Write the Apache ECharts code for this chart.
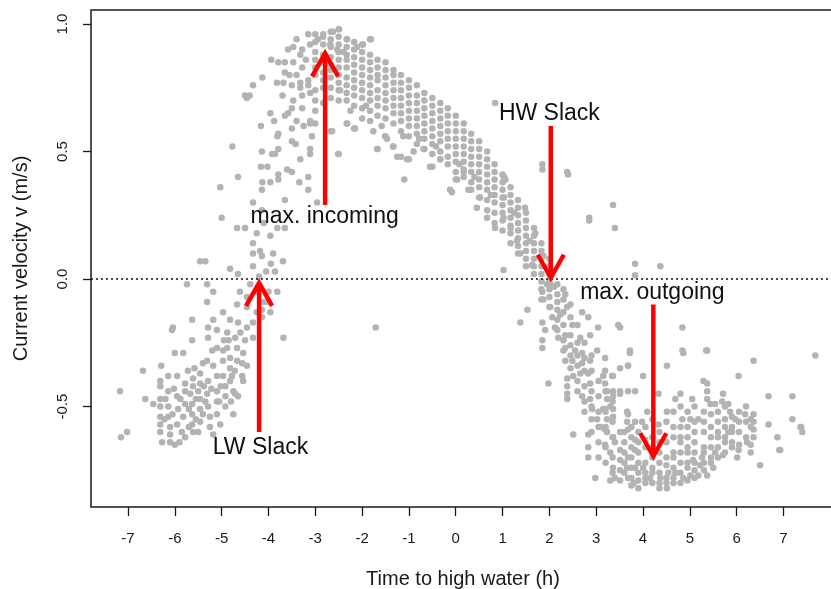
<!DOCTYPE html>
<html>
<head>
<meta charset="utf-8">
<script src="https://cdn.jsdelivr.net/npm/echarts@6/dist/echarts.min.js"></script>
<style>
  html, body { margin: 0; padding: 0; background: #fff; }
  #chart { width: 831px; height: 589px; }
</style>
</head>
<body>
<div id="chart"></div>
<script>
// tick labels
const hourTicks = [-7, -6, -5, -4, -3, -2, -1, 0, 1, 2, 3, 4, 5, 6, 7];
const velocityTicks = [-0.5, 0.0, 0.5, 1.0];

// low water / early flood, read point by point  [hours, m/s]
const lowWaterPts = [
  [-7.17,-0.44],[-7.15,-0.62],[-7.02,-0.60],[-6.68,-0.36],[-6.63,-0.47],[-6.46,-0.49],[-6.29,-0.34],[-6.06,-0.20],
  [-6.31,-0.40],[-6.31,-0.42],[-6.31,-0.47],[-6.31,-0.50],[-6.31,-0.54],[-6.31,-0.57],[-6.31,-0.60],[-6.27,-0.64],
  [-6.14,-0.38],[-6.14,-0.44],[-6.14,-0.50],[-6.14,-0.54],[-6.10,-0.58],[-6.10,-0.61],[-6.10,-0.64],[-6.00,-0.65],
  [-6.04,-0.19],[-5.95,-0.38],[-5.95,-0.46],[-5.93,-0.51],[-5.95,-0.57],[-5.85,-0.60],[-5.82,-0.54],[-5.78,-0.49],
  [-5.78,-0.44],[-5.78,-0.41],[-5.78,-0.62],[-5.82,-0.29],[-6.00,-0.29],[-6.20,-0.47],[-6.05,-0.53],[-5.90,-0.64],
  [-5.67,-0.45],[-5.63,-0.49],[-5.63,-0.53],[-5.63,-0.57],[-5.61,-0.60],[-5.61,-0.42],[-5.61,-0.39],[-5.63,-0.24],
  [-5.63,-0.16],[-5.70,-0.51],[-5.72,-0.36],[-5.55,-0.47],[-5.55,-0.55],[-5.40,-0.53],[-5.38,-0.42],
  [-5.50,-0.44],[-5.46,-0.47],[-5.46,-0.51],[-5.46,-0.56],[-5.50,-0.60],[-5.46,-0.41],[-5.46,-0.37],[-5.46,0.07],
  [-5.31,-0.45],[-5.29,-0.50],[-5.25,-0.54],[-5.25,-0.58],[-5.29,-0.40],[-5.31,-0.32],[-5.29,-0.23],[-5.29,-0.19],
  [-5.31,-0.09],[-5.31,-0.02],[-5.18,-0.34],[-5.18,-0.16],[-5.18,-0.05],[-5.18,-0.61],[-5.10,-0.38],[-5.10,-0.44],
  [-5.10,-0.48],[-5.10,-0.53],[-5.03,-0.57],[-5.10,-0.20],[-5.10,-0.27],[-5.20,-0.28],[-5.02,-0.42],
  [-4.97,-0.13],[-4.97,-0.28],[-4.97,-0.32],[-4.97,-0.38],[-4.92,-0.42],[-4.92,-0.46],[-4.92,-0.50],[-4.88,-0.21],
  [-4.88,-0.27],[-4.82,-0.16],[-4.82,-0.31],[-4.82,-0.35],[-4.82,-0.40],[-4.78,-0.38],[-4.75,-0.44],[-4.75,-0.53],
  [-4.71,-0.23],[-4.71,-0.45],[-4.67,-0.10],[-4.67,-0.27],[-4.67,-0.32],[-4.65,-0.17],[-4.65,-0.46],[-4.61,-0.05],
  [-4.56,-0.33],[-4.56,-0.38],[-4.54,-0.29],[-4.54,-0.40],[-4.50,-0.24],[-5.74,-0.02],[-5.35,0.07],[-5.03,0.36],
  [-5.00,0.24],[-4.80,-0.48],[-4.85,-0.24],[-4.60,-0.21],[-6.22,-0.55],[-6.02,-0.43],[-5.88,-0.47],[-5.70,-0.58],
  [-5.58,-0.35],[-5.40,-0.33],[-5.35,-0.48],[-5.22,-0.43],[-5.05,-0.48],[-4.95,-0.24],[-4.72,-0.36]
];

// flood rising to max. incoming
const floodPts = [
  [-4.46,-0.07],[-4.46,-0.11],[-4.46,-0.19],[-4.46,-0.34],[-4.39,-0.02],[-4.33,-0.17],[-4.33,-0.23],[-4.33,0.05],
  [-4.33,0.10],[-4.33,0.14],[-4.33,0.30],[-4.25,-0.05],[-4.25,-0.13],[-4.14,-0.12],[-4.14,-0.15],[-4.14,0.09],
  [-4.14,0.27],[-4.18,0.11],[-4.10,-0.09],[-4.00,-0.05],[-4.00,-0.09],[-3.96,-0.13],[-3.96,0.17],[-3.90,0.10],
  [-3.86,0.03],[-3.81,-0.05],[-3.81,0.20],[-3.69,0.07],[-3.68,-0.23],[-3.65,0.20],[-3.65,0.31],[-4.82,0.04],
  [-4.65,0.02],[-4.67,0.20],[-4.50,0.20],[-4.20,0.01],[-4.05,0.03],[-4.25,0.18],[-4.10,0.22],[-3.95,0.06],
  [-4.77,0.52],[-4.65,0.40],[-4.46,0.71],[-4.50,0.72],[-4.40,0.72],[-4.33,0.76],[-4.13,0.79],[-4.16,0.60],
  [-4.14,0.50],[-4.16,0.44],[-4.13,0.38],[-4.14,0.35],[-3.96,0.38],[-3.92,0.49],[-3.81,0.56],[-3.79,0.51],
  [-3.96,0.65],[-3.79,0.41],[-3.79,0.39],[-3.60,0.43],[-3.50,0.42],[-3.32,0.47],[-3.15,0.40],[-3.50,0.54],
  [-3.34,0.38],[-3.58,0.65],[-3.47,0.70],[-3.32,0.75],[-3.15,0.76],[-3.28,0.67],[-3.11,0.61],[-3.11,0.51],
  [-3.94,0.86],[-3.79,0.85],[-3.65,0.85],[-3.47,0.85],[-3.28,0.83],[-3.65,0.81],[-3.82,0.77],[-3.68,0.77],
  [-3.50,0.76],[-3.32,0.77],[-3.15,0.78],[-3.11,0.73],[-3.28,0.72],[-3.65,0.64],[-3.79,0.57],[-3.50,0.59],
  [-3.11,0.62],[-3.07,0.56],[-3.11,0.49],[-3.86,0.49],[-2.96,0.30],[-3.15,0.35],[-3.50,0.67],[-3.40,0.62],
  [-3.15,0.96],[-2.94,0.94],[-3.47,0.91],[-3.28,0.90],[-3.32,0.88],[-3.11,0.92],[-3.20,0.86],[-3.40,0.80],
  [-3.58,0.90],[-3.40,0.94],[-3.55,0.80],[-3.25,0.60],[-3.42,0.53],[-3.70,0.72],[-3.88,0.62],[-4.02,0.44]
];

// dense ebb band: one column of values per time step
const ebbTimes = [-3.0,-2.83,-2.67,-2.5,-2.33,-2.17,-2.0,-1.83,-1.67,-1.5,-1.33,-1.17,-1.0,-0.83,-0.67,-0.5,
  -0.33,-0.17,0.0,0.17,0.33,0.5,0.67,0.83,1.0,1.17,1.33,1.5,1.67,1.83,2.0];
const ebbValues = [
  [0.96,0.93,0.89,0.86,0.83,0.80,0.74,0.70,0.66,0.61],
  [0.95,0.92,0.88,0.85,0.81,0.78,0.75,0.69],
  [0.97,0.94,0.91,0.87,0.84,0.82,0.79,0.75,0.71,0.58],
  [0.98,0.95,0.92,0.89,0.86,0.83,0.80,0.77,0.74,0.70,0.49],
  [0.94,0.91,0.88,0.86,0.83,0.79,0.76,0.73,0.70,0.61],
  [0.93,0.90,0.87,0.84,0.81,0.78,0.75,0.72,0.68,0.59],
  [0.92,0.89,0.86,0.83,0.80,0.77,0.74,0.71,0.67,0.63],
  [0.94,0.88,0.85,0.82,0.79,0.76,0.73,0.70,0.66,0.62],
  [0.86,0.83,0.80,0.78,0.74,0.71,0.68,0.64,0.51],
  [0.85,0.82,0.79,0.76,0.73,0.70,0.67,0.63,0.56],
  [0.82,0.80,0.77,0.74,0.71,0.68,0.65,0.61,0.52],
  [0.80,0.77,0.74,0.71,0.68,0.65,0.62,0.58,0.48],
  [0.78,0.75,0.72,0.69,0.66,0.63,0.60,0.56,0.47],
  [0.76,0.72,0.69,0.66,0.63,0.60,0.57,0.53],
  [0.73,0.70,0.67,0.64,0.61,0.58,0.55,0.51],
  [0.71,0.68,0.65,0.62,0.59,0.56,0.53,0.49,0.44],
  [0.69,0.66,0.63,0.60,0.57,0.54,0.50,0.47],
  [0.67,0.64,0.61,0.58,0.55,0.52,0.48,0.45],
  [0.64,0.61,0.58,0.55,0.52,0.49,0.46,0.42,0.39],
  [0.61,0.58,0.55,0.52,0.49,0.46,0.43,0.40],
  [0.57,0.54,0.51,0.48,0.45,0.42,0.38,0.35],
  [0.54,0.51,0.48,0.45,0.42,0.39,0.36,0.32],
  [0.50,0.47,0.44,0.41,0.38,0.35,0.31,0.27],
  [0.45,0.42,0.39,0.36,0.33,0.30,0.26,0.22],
  [0.41,0.38,0.35,0.32,0.29,0.26,0.23,0.19],
  [0.36,0.33,0.30,0.27,0.24,0.21,0.18,0.14],
  [0.31,0.28,0.25,0.22,0.19,0.16,0.13,0.10],
  [0.26,0.23,0.20,0.17,0.14,0.11,0.08,0.05],
  [0.20,0.17,0.14,0.11,0.08,0.05,0.02],
  [0.14,0.11,0.08,0.05,0.02,-0.01,-0.04,-0.08],
  [0.08,0.05,0.02,-0.01,-0.04,-0.07,-0.11]
];

// scattered points around the ebb band
const ebbStrayPts = [
  [-2.32,0.61],[-2.15,0.59],[-2.47,0.74],[-2.51,0.49],[-2.64,0.58],[-1.76,0.58],[-1.68,0.51],[-1.34,0.52],
  [-1.47,0.55],[-1.12,0.56],[-1.25,0.48],[-1.04,0.47],[-1.10,0.39],[-1.71,-0.19],[-1.51,0.56],[-0.90,0.50],
  [-0.55,0.44],[-0.69,0.51],[-0.33,0.47],[-0.12,0.35],[0.03,0.39],[0.17,0.42],[0.27,0.35],[0.52,0.32],
  [0.67,0.24],[0.45,0.28],[-0.08,0.34],[0.84,0.69],[1.85,0.45],[1.85,0.43],[2.38,0.42],[2.40,0.41],
  [1.03,0.40],[1.03,0.32],[1.48,0.28],[2.85,0.24],[2.85,0.23],[3.36,0.29],[3.40,0.20],[3.83,0.06],
  [4.37,0.05],[3.83,0.015],[1.06,0.39],[-2.83,0.96],[-2.62,0.97],[-2.49,0.98],[-2.32,0.94],[-2.11,0.91],
  [-1.81,0.94],[-1.98,0.92],[-2.68,0.92],[-2.53,0.90],[-2.40,0.89],[1.02,0.24],[0.84,0.20],[1.17,0.20],
  [1.31,0.15],[1.38,0.10],[1.02,0.035],[1.63,0.055],[1.70,0.18],[1.87,0.09],[-2.25,0.66],[-1.92,0.68],
  [-1.58,0.60],[-0.78,0.55],[-0.42,0.52],[0.08,0.45],[0.40,0.40],[0.75,0.33],[1.25,0.26],[1.58,0.15]
];

// after HW slack, falling towards max. outgoing
const slackTimes = [2.17, 2.3, 2.45, 2.6, 2.75, 2.9, 3.05, 3.2, 3.35];
const slackValues = [
  [-0.02,-0.06,-0.12,-0.16,-0.20],
  [-0.04,-0.08,-0.13,-0.18,-0.24,-0.28],
  [-0.10,-0.15,-0.22,-0.26,-0.30,-0.35],
  [-0.18,-0.25,-0.30,-0.34,-0.40,-0.44],
  [-0.25,-0.31,-0.36,-0.42,-0.48,-0.52],
  [-0.30,-0.36,-0.44,-0.50,-0.55,-0.60],
  [-0.40,-0.46,-0.52,-0.58,-0.64,-0.70],
  [-0.44,-0.52,-0.58,-0.66,-0.72],
  [-0.48,-0.56,-0.62,-0.70,-0.76]
];
const slackPts = [
  [2.02,-0.02],[1.85,-0.05],[1.87,-0.08],[2.02,-0.11],[2.17,-0.09],[2.23,-0.14],[2.34,-0.06],[2.38,-0.11],
  [2.06,-0.15],[1.85,-0.17],[1.91,-0.20],[1.85,-0.24],[1.85,-0.27],[2.12,-0.19],[2.19,-0.23],[2.34,-0.22],
  [2.49,-0.18],[2.70,-0.13],[2.66,-0.23],[2.83,-0.15],[2.87,-0.22],[3.04,-0.19],[2.55,-0.28],[2.34,-0.27],
  [2.70,-0.29],[3.02,-0.28],[2.34,-0.32],[2.49,-0.32],[2.70,-0.33],[2.87,-0.32],[3.19,-0.31],[2.38,-0.39],
  [2.51,-0.38],[2.66,-0.37],[2.83,-0.37],[2.87,-0.41],[2.70,-0.46],[2.38,-0.42],[2.38,-0.45],[2.38,-0.47],
  [1.98,-0.41],[3.15,-0.38],[3.23,-0.44],[3.36,-0.38],[3.51,-0.44],[3.36,-0.46],[2.87,-0.47],[2.91,-0.51],
  [3.02,-0.55],[3.09,-0.58],[3.15,-0.51],[3.30,-0.50],[3.36,-0.54],[3.23,-0.60],[3.40,-0.64],[3.30,-0.68],
  [3.51,-0.60],[3.66,-0.56],[3.68,-0.53],[2.51,-0.61],[2.83,-0.61],[2.83,-0.66],[2.83,-0.70],[2.98,-0.78],
  [1.38,-0.17],[1.53,-0.12],[3.51,-0.19],[3.72,-0.28],[3.68,-0.34],[3.47,-0.18],[2.10,-0.03],[1.95,-0.02]
];

// trough around max. outgoing
const troughTimes = [3.6, 3.75, 3.9, 4.05, 4.2, 4.35, 4.5, 4.65, 4.8, 4.95, 5.1, 5.3, 5.45, 5.6, 5.75, 5.9, 6.05, 6.2, 6.3];
const troughValues = [
  [-0.60,-0.64,-0.68,-0.72,-0.76],
  [-0.58,-0.62,-0.66,-0.70,-0.74,-0.78,-0.81],
  [-0.60,-0.64,-0.68,-0.72,-0.76,-0.79],
  [-0.58,-0.66,-0.72,-0.76,-0.78],
  [-0.55,-0.62,-0.66,-0.70,-0.76,-0.80],
  [-0.60,-0.64,-0.68,-0.72,-0.76,-0.80,-0.82],
  [-0.56,-0.64,-0.70,-0.73,-0.78,-0.80],
  [-0.52,-0.58,-0.62,-0.68,-0.70,-0.74,-0.78,-0.80],
  [-0.50,-0.58,-0.62,-0.64,-0.68,-0.72,-0.76,-0.80],
  [-0.52,-0.58,-0.62,-0.66,-0.68,-0.72,-0.74,-0.79],
  [-0.50,-0.56,-0.60,-0.64,-0.68,-0.72,-0.75,-0.78],
  [-0.52,-0.56,-0.60,-0.66,-0.68,-0.72,-0.75],
  [-0.53,-0.58,-0.62,-0.66,-0.70,-0.72],
  [-0.52,-0.56,-0.60,-0.62,-0.66,-0.70],
  [-0.50,-0.55,-0.58,-0.62,-0.64,-0.68],
  [-0.54,-0.58,-0.60,-0.64,-0.66],
  [-0.52,-0.56,-0.60,-0.65],
  [-0.50,-0.56,-0.62],
  [-0.55,-0.58,-0.65,-0.68]
];
const troughPts = [
  [3.19,-0.36],[3.34,-0.38],[3.51,-0.35],[3.68,-0.34],[3.72,-0.29],[4.00,-0.38],[4.51,-0.34],[4.86,-0.29],
  [5.37,-0.28],[6.36,-0.32],[7.68,-0.30],[6.04,-0.38],[5.29,-0.40],[5.37,-0.41],[5.37,-0.44],[5.71,-0.45],
  [6.68,-0.46],[7.19,-0.46],[7.19,-0.55],[7.36,-0.58],[7.40,-0.60],[6.68,-0.57],[6.87,-0.62],[6.93,-0.67],
  [6.50,-0.73],[3.19,-0.41],[3.36,-0.44],[3.23,-0.47],[3.51,-0.45],[3.68,-0.44],[3.83,-0.44],[3.19,-0.51],
  [3.36,-0.51],[3.66,-0.52],[4.09,-0.52],[4.33,-0.45],[4.51,-0.52],[4.69,-0.47],[4.80,-0.45],[5.05,-0.47],
  [4.84,-0.55],[5.01,-0.55],[5.18,-0.55],[5.37,-0.47],[5.44,-0.49],[5.54,-0.49],[5.69,-0.48],[5.82,-0.49],
  [5.86,-0.52],[5.97,-0.55],[6.18,-0.53],[6.36,-0.53],[6.36,-0.56],[6.36,-0.59],[6.36,-0.62],[6.22,-0.64],
  [6.04,-0.67],[6.01,-0.70],[5.82,-0.60],[5.71,-0.69],[5.54,-0.68],[5.26,-0.70],[5.07,-0.71],[5.22,-0.73],
  [5.50,-0.74],[5.37,-0.77],[5.18,-0.77],[5.01,-0.77],[4.86,-0.78],[4.69,-0.76],[4.54,-0.76],[4.51,-0.82],
  [4.37,-0.78],[4.15,-0.78],[4.05,-0.80],[3.90,-0.82],[3.80,-0.80],[3.68,-0.78],[3.51,-0.79],[3.40,-0.78],
  [3.30,-0.79],[3.36,-0.74],[3.51,-0.75],[3.66,-0.74],[3.83,-0.74],[4.00,-0.74],[4.20,-0.74],[3.51,-0.71],
  [3.51,-0.67],[3.68,-0.70],[3.83,-0.67],[4.05,-0.63],[3.83,-0.63],[3.68,-0.59],[3.83,-0.56],[3.98,-0.56],
  [4.33,-0.57],[3.23,-0.55],[3.19,-0.59],[3.19,-0.65],[3.36,-0.62],[4.84,-0.19],[4.84,-0.28],[5.35,-0.28],
  [6.91,-0.67],[7.38,-0.58]
];

// annotation arrows and their labels (hours, m/s)
const arrowTimes = [-4.2, -2.79, 2.03, 4.22];
const arrowStart = [-0.60, 0.29, 0.60, -0.10];
const arrowTip = [-0.015, 0.885, 0.005, -0.695];
const noteNames = ['LW Slack', 'max. incoming', 'HW Slack', 'max. outgoing'];
const noteTimes = [-4.17, -2.8, 2.0, 4.2];
const noteValues = [-0.66, 0.243, 0.65, -0.055];

function fromColumns(times, values) {
  const out = [];
  times.forEach((t, i) => values[i].forEach(v => out.push([t, v])));
  return out;
}

const points = [].concat(
  lowWaterPts, floodPts, fromColumns(ebbTimes, ebbValues), ebbStrayPts,
  fromColumns(slackTimes, slackValues), slackPts, fromColumns(troughTimes, troughValues), troughPts
);

const font = '"Liberation Sans", Arial, sans-serif';
const chart = echarts.init(document.getElementById('chart'));
chart.setOption({
  animation: false,
  backgroundColor: '#fff',
  grid: {
    left: 91, right: -4, top: 10, bottom: 82,
    outerBoundsMode: 'none',
    show: true, borderColor: '#1a1a1a', borderWidth: 1.5, backgroundColor: 'transparent'
  },
  xAxis: {
    type: 'value', min: -7.79, max: 8.1,
    name: 'Time to high water (h)', nameLocation: 'middle', nameGap: 62,
    nameTextStyle: { fontFamily: font, fontSize: 20, color: '#1a1a1a' },
    axisLine: { show: false, onZero: false },
    axisTick: { show: true, length: 9, customValues: hourTicks, lineStyle: { color: '#1a1a1a', width: 1.3 } },
    axisLabel: { customValues: hourTicks, margin: 24, fontFamily: font, fontSize: 15, color: '#1a1a1a' },
    splitLine: { show: false }
  },
  yAxis: {
    type: 'value', min: -0.894, max: 1.055,
    name: 'Current velocity v (m/s)', nameLocation: 'middle', nameGap: 60,
    nameTextStyle: { fontFamily: font, fontSize: 20, color: '#1a1a1a' },
    axisLine: { show: false, onZero: false },
    axisTick: { show: true, length: 8, customValues: velocityTicks, lineStyle: { color: '#1a1a1a', width: 1.3 } },
    axisLabel: {
      customValues: velocityTicks, rotate: 90, margin: 21, fontFamily: font, fontSize: 15, color: '#1a1a1a',
      formatter: v => v.toFixed(1)
    },
    splitLine: { show: false }
  },
  series: [
    {
      type: 'scatter',
      data: points,
      symbolSize: 6.5,
      itemStyle: { color: '#b3b3b3', opacity: 1 },
      silent: true,
      markLine: {
        silent: true, symbol: ['none', 'none'],
        label: { show: false },
        lineStyle: { color: '#111', width: 1.6, type: [2, 3] },
        data: [{ yAxis: 0 }]
      }
    },
    {
      type: 'custom',
      data: arrowTimes.map((t, i) => [t, arrowStart[i], arrowTip[i]]),
      silent: true, z: 5,
      renderItem: (params, api) => {
        const s = api.coord([api.value(0), api.value(1)]);
        const e = api.coord([api.value(0), api.value(2)]);
        const dir = Math.sign(e[1] - s[1]);
        const wing = 13, len = 23;
        const st = { stroke: '#ff0000', lineWidth: 4.5, fill: null };
        return {
          type: 'group',
          children: [
            { type: 'line', shape: { x1: s[0], y1: s[1], x2: e[0], y2: e[1] }, style: st },
            { type: 'polyline', shape: { points: [[e[0] - wing, e[1] - dir * len], [e[0], e[1]], [e[0] + wing, e[1] - dir * len]] },
              style: Object.assign({ lineJoin: 'miter' }, st) }
          ]
        };
      }
    },
    {
      type: 'custom',
      data: noteTimes.map((t, i) => [t, noteValues[i]]),
      silent: true, z: 6,
      renderItem: (params, api) => {
        const p = api.coord([api.value(0), api.value(1)]);
        return {
          type: 'text', x: p[0], y: p[1],
          style: {
            text: noteNames[params.dataIndex], fontFamily: font, fontSize: 23,
            fill: '#111', align: 'center', verticalAlign: 'middle'
          }
        };
      }
    }
  ]
});
</script>
</body>
</html>
